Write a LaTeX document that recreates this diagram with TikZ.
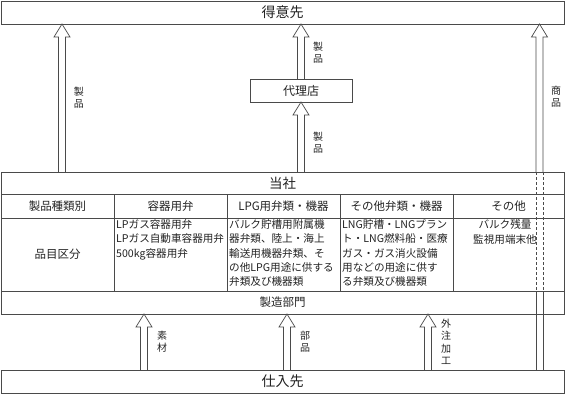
\documentclass[tikz,border=0pt]{standalone}
\usepackage{fontspec}
\setmainfont{Noto Sans CJK JP}
\usetikzlibrary{calc}
\definecolor{lc}{HTML}{4A4A4A}
\definecolor{tc}{HTML}{222222}
\newcommand\blockarrow[2]{%
  \draw[arrline] ($(#1)+(-3.5,0)$) -- ($(#2)+(-3.5,13)$) -- ($(#2)+(-8,13)$) -- (#2)
    -- ($(#2)+(8,13)$) -- ($(#2)+(3.5,13)$) -- ($(#1)+(3.5,0)$);}
\begin{document}
\begin{tikzpicture}[x=1pt,y=-1pt,
  every node/.style={text=tc},
  cell/.style={draw=lc, line width=0.8pt, inner sep=0pt, outer sep=0pt},
  ttl/.style={font=\fontsize{14}{16}\selectfont},
  mid/.style={font=\fontsize{11.5}{14}\selectfont},
  txt/.style={font=\fontsize{10.6}{14.3}\selectfont, inner sep=0pt},
  lab/.style={font=\fontsize{10}{12}\selectfont, inner sep=0pt, align=center},
  arrline/.style={draw=lc, line width=0.7pt},
  dashline/.style={draw=lc, line width=0.7pt, dash pattern=on 3pt off 2pt}]
\useasboundingbox (0,0) rectangle (566,394);

% boxes
\node[cell, ttl, minimum width=563pt, minimum height=23pt] (tokui) at (282.5,12.5) {得意先};
\node[cell, font=\fontsize{12}{14}\selectfont, minimum width=102pt, minimum height=23pt] (dairi) at (301,90.5) {代理店};
\node[cell, font=\fontsize{13.5}{16}\selectfont, minimum width=563pt, minimum height=22pt] (tosha) at (282.5,183) {当社};

% header row
\node[cell, mid, minimum width=113pt, minimum height=24pt] (h1) at (57.5,206) {製品種類別};
\node[cell, mid, minimum width=113pt, minimum height=24pt] (h2) at (170.5,206) {容器用弁};
\node[cell, mid, minimum width=113pt, minimum height=24pt] (h3) at (283.5,206) {LPG用弁類・機器};
\node[cell, mid, minimum width=113pt, minimum height=24pt] (h4) at (396.5,206) {その他弁類・機器};
\node[cell, mid, minimum width=111pt, minimum height=24pt] (h5) at (508.5,206) {その他};

% content row
\node[cell, mid, minimum width=113pt, minimum height=73pt] (k1) at (57.5,254.5) {品目区分};
\node[cell, minimum width=113pt, minimum height=73pt] (k2) at (170.5,254.5) {};
\node[cell, minimum width=113pt, minimum height=73pt] (k3) at (283.5,254.5) {};
\node[cell, minimum width=113pt, minimum height=73pt] (k4) at (396.5,254.5) {};
\node[cell, minimum width=111pt, minimum height=73pt] (k5) at (508.5,254.5) {};

\node[txt, align=left, anchor=north west] (t2) at (116,219.5) {LPガス容器用弁\\LPガス自動車容器用弁\\500kg容器用弁};
\node[txt, align=left, anchor=north west] (t3) at (229,219.5) {バルク貯槽用附属機\\器弁類、陸上・海上\\輸送用機器弁類、そ\\の他LPG用途に供する\\弁類及び機器類};
\node[txt, align=left, anchor=north west] (t4) at (342,219.5) {LNG貯槽・LNGプラン\\ト・LNG燃料船・医療\\ガス・ガス消火設備\\用などの用途に供す\\る弁類及び機器類};
\node[txt, align=center, anchor=north] (t5) at (505,219.5) {バルク残量\\監視用端末他};

\node[cell, mid, minimum width=563pt, minimum height=23pt] (seizo) at (282.5,302.5) {製造部門};
\node[cell, ttl, minimum width=563pt, minimum height=23pt] (shiire) at (282.5,381.5) {仕入先};

% connector points
\coordinate (aL1) at (62,0 |- tosha.north);
\coordinate (aL2) at (62,0 |- tokui.south);
\coordinate (aM1) at (301,0 |- tosha.north);
\coordinate (aM4) at (301,0 |- tokui.south);
\coordinate (aR1) at (539.5,0 |- tokui.south);
\coordinate (aR2) at (539.5,0 |- tosha.north);
\coordinate (aR3) at (539.5,0 |- seizo.north);
\coordinate (aR4) at (539.5,0 |- shiire.north);
\coordinate (b1a) at (144,0 |- shiire.north);
\coordinate (b1b) at (144,0 |- seizo.south);
\coordinate (b2a) at (287,0 |- shiire.north);
\coordinate (b2b) at (287,0 |- seizo.south);
\coordinate (b3a) at (428,0 |- shiire.north);
\coordinate (b3b) at (428,0 |- seizo.south);

% arrows
\blockarrow{aL1}{aL2}
\blockarrow{aM1}{dairi.south}
\blockarrow{dairi.north}{aM4}
\blockarrow{aR2}{aR1}
\draw[dashline] ($(aR2)+(-3.5,0)$) -- ($(aR3)+(-3.5,0)$);
\draw[dashline] ($(aR2)+(3.5,0)$) -- ($(aR3)+(3.5,0)$);
\draw[arrline] ($(aR3)+(-3.5,0)$) -- ($(aR4)+(-3.5,0)$);
\draw[arrline] ($(aR3)+(3.5,0)$) -- ($(aR4)+(3.5,0)$);
\blockarrow{b1a}{b1b}
\blockarrow{b2a}{b2b}
\blockarrow{b3a}{b3b}

% labels
\node[lab] (l1) at (79,98) {製\\品};
\node[lab] (l2) at (318,53) {製\\品};
\node[lab] (l3) at (318,143) {製\\品};
\node[lab] (l4) at (556,97) {商\\品};
\node[lab] (l5) at (162,342) {素\\材};
\node[lab] (l6) at (305,342) {部\\品};
\node[lab, font=\fontsize{10}{12.5}\selectfont] (l7) at (446,342) {外\\注\\加\\工};
\end{tikzpicture}
\end{document}
